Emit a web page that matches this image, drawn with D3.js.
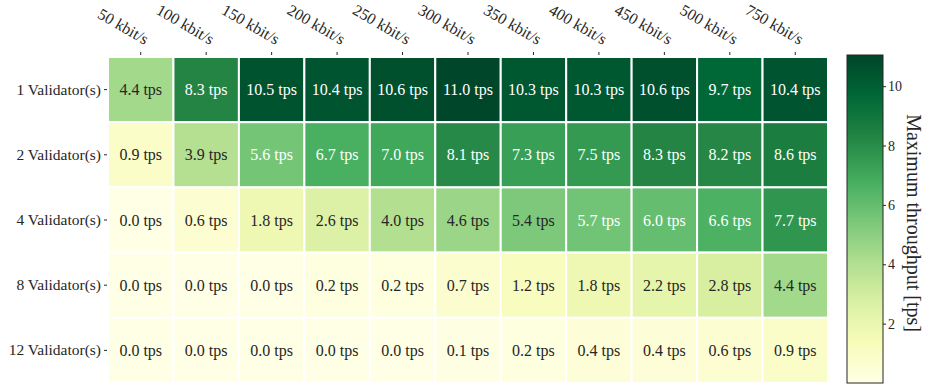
<!DOCTYPE html>
<html>
<head>
<meta charset="utf-8">
<script src="https://cdn.jsdelivr.net/npm/d3@7"></script>
<style>
  body { margin: 0; background: #fff; }
</style>
</head>
<body>
<div class="js-chart"></div>
<script>
// Chart data
var validators = ['1 Validator(s)', '2 Validator(s)', '4 Validator(s)', '8 Validator(s)', '12 Validator(s)'];
var bandwidths = ['50 kbit/s', '100 kbit/s', '150 kbit/s', '200 kbit/s', '250 kbit/s', '300 kbit/s',
                  '350 kbit/s', '400 kbit/s', '450 kbit/s', '500 kbit/s', '750 kbit/s'];
var tps1 = [4.4, 8.3, 10.5, 10.4, 10.6, 11.0, 10.3, 10.3, 10.6, 9.7, 10.4];
var tps2 = [0.9, 3.9, 5.6, 6.7, 7.0, 8.1, 7.3, 7.5, 8.3, 8.2, 8.6];
var tps4 = [0.0, 0.6, 1.8, 2.6, 4.0, 4.6, 5.4, 5.7, 6.0, 6.6, 7.7];
var tps8 = [0.0, 0.0, 0.0, 0.2, 0.2, 0.7, 1.2, 1.8, 2.2, 2.8, 4.4];
var tps12 = [0.0, 0.0, 0.0, 0.0, 0.0, 0.1, 0.2, 0.4, 0.4, 0.6, 0.9];
var colorbarTicks = [2, 4, 6, 8, 10];

// YlGn, linearly interpolated like matplotlib does
var ylgn = ['#ffffe5', '#f7fcb9', '#d9f0a3', '#addd8e', '#78c679', '#41ab5d', '#238443', '#006837', '#004529'];

var rowsData = [tps1, tps2, tps4, tps8, tps12];
var serif = '"Liberation Serif", "DejaVu Serif", serif';
var ink = '#262626';

var width = 925;
var height = 386;
var margin = { top: 57, left: 108, bottom: 3 };
var mapRight = 828;

var svg = d3.select('.js-chart').append('svg')
  .attr('width', width)
  .attr('height', height)
  .style('font-family', serif);

var x = d3.scaleBand()
  .domain(bandwidths)
  .range([margin.left, mapRight]);

var y = d3.scaleBand()
  .domain(validators)
  .range([margin.top, height - margin.bottom]);

var vmax = d3.max(rowsData, function(r) { return d3.max(r); }) + 0.05;
var color = d3.scaleLinear()
  .domain(d3.range(ylgn.length).map(function(i) { return i / (ylgn.length - 1) * vmax; }))
  .range(ylgn)
  .interpolate(d3.interpolateRgb);

// annotation colour from cell luminance (light text on dark cells)
var textColor = function textColor(v) {
  var c = d3.rgb(color(v));
  var lin = [c.r, c.g, c.b].map(function(ch) {
    ch = ch / 255;
    return ch <= 0.03928 ? ch / 12.92 : Math.pow((ch + 0.055) / 1.055, 2.4);
  });
  var lum = 0.2126 * lin[0] + 0.7152 * lin[1] + 0.0722 * lin[2];
  return lum > 0.46 ? ink : '#ffffff';
};

var cells = [];
rowsData.forEach(function(row, i) {
  row.forEach(function(v, j) {
    cells.push({ row: validators[i], col: bandwidths[j], value: v });
  });
});

var cell = svg.append('g').selectAll('g')
  .data(cells)
  .enter().append('g');

cell.append('rect')
  .attr('x', function(d) { return x(d.col); })
  .attr('y', function(d) { return y(d.row); })
  .attr('width', x.bandwidth())
  .attr('height', y.bandwidth())
  .attr('fill', function(d) { return color(d.value); })
  .attr('stroke', '#fff')
  .attr('stroke-width', 2);

cell.append('text')
  .attr('x', function(d) { return x(d.col) + x.bandwidth() / 2; })
  .attr('y', function(d) { return y(d.row) + y.bandwidth() / 2; })
  .attr('dy', '0.35em')
  .attr('text-anchor', 'middle')
  .style('font-family', serif)
  .style('font-size', '16px')
  .attr('fill', function(d) { return textColor(d.value); })
  .text(function(d) { return d.value.toFixed(1) + ' tps'; });

// Top axis (bandwidths)
var topAxis = svg.append('g')
  .attr('transform', 'translate(0,' + (margin.top - 2) + ')')
  .call(d3.axisTop(x).tickSize(3).tickPadding(2).tickFormat(''));
topAxis.select('.domain').remove();
topAxis.selectAll('line').attr('stroke', ink);
topAxis.selectAll('.tick').append('text')
  .attr('transform', 'translate(4,-10) rotate(30)')
  .attr('text-anchor', 'end')
  .attr('fill', ink)
  .style('font-family', serif)
  .style('font-size', '16px')
  .text(function(d) { return d; });

// Left axis (validators)
var leftAxis = svg.append('g')
  .attr('transform', 'translate(' + (margin.left - 1) + ',0)')
  .call(d3.axisLeft(y).tickSize(3).tickPadding(3));
leftAxis.select('.domain').remove();
leftAxis.selectAll('line').attr('stroke', ink);
leftAxis.selectAll('text')
  .attr('fill', ink)
  .style('font-size', '15.5px')
  .style('font-family', serif);

// Colorbar
var cbX = 847;
var cbW = 36;
var cbScale = d3.scaleLinear()
  .domain([0, vmax])
  .range([height - margin.bottom, 55]);

var defs = svg.append('defs');
var grad = defs.append('linearGradient')
  .attr('id', 'cb-grad')
  .attr('x1', 0).attr('y1', 1).attr('x2', 0).attr('y2', 0);
d3.range(0, 1.0001, 0.125).forEach(function(t) {
  grad.append('stop')
    .attr('offset', t)
    .attr('stop-color', color(t * vmax));
});

svg.append('rect')
  .attr('x', cbX)
  .attr('y', cbScale(vmax))
  .attr('width', cbW)
  .attr('height', cbScale(0) - cbScale(vmax))
  .attr('fill', 'url(#cb-grad)')
  .attr('stroke', ink)
  .attr('stroke-width', 1);

var cbAxis = svg.append('g')
  .attr('transform', 'translate(' + (cbX + cbW) + ',0)')
  .call(d3.axisRight(cbScale).tickValues(colorbarTicks).tickSize(3).tickPadding(2));
cbAxis.select('.domain').remove();
cbAxis.selectAll('line').attr('stroke', ink);
cbAxis.selectAll('text')
  .attr('fill', ink)
  .style('font-size', '14px')
  .style('font-family', serif);

svg.append('text')
  .attr('transform', 'translate(907,' + ((cbScale(0) + cbScale(vmax)) / 2 + 4) + ') rotate(90)')
  .attr('text-anchor', 'middle')
  .attr('fill', ink)
  .style('font-family', serif)
  .style('font-size', '20px')
  .text('Maximum throughput [tps]');
</script>
</body>
</html>
